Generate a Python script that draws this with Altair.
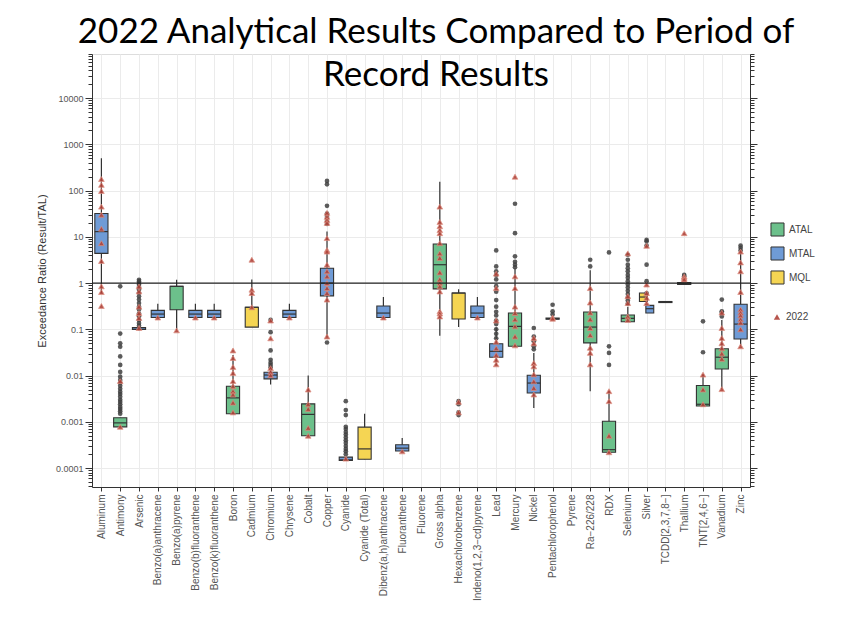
import altair as alt
import pandas as pd
import numpy as np

categories = ["Aluminum", "Antimony", "Arsenic", "Benzo(a)anthracene", "Benzo(a)pyrene",
              "Benzo(b)fluoranthene", "Benzo(k)fluoranthene", "Boron", "Cadmium", "Chromium",
              "Chrysene", "Cobalt", "Copper", "Cyanide", "Cyanide (Total)",
              "Dibenz(a,h)anthracene", "Fluoranthene", "Fluorene", "Gross alpha",
              "Hexachlorobenzene", "Indeno(1,2,3\u2212cd)pyrene", "Lead", "Mercury", "Nickel",
              "Pentachlorophenol", "Pyrene", "Ra\u2212226/228", "RDX", "Selenium", "Silver",
              "TCDD[2,3,7,8\u2212]", "Thallium", "TNT[2,4,6\u2212]", "Vanadium", "Zinc"]

# box statistics (period of record)
box_cat = ["Aluminum", "Antimony", "Arsenic", "Benzo(a)anthracene", "Benzo(a)pyrene",
           "Benzo(b)fluoranthene", "Benzo(k)fluoranthene", "Boron", "Cadmium", "Chromium",
           "Chrysene", "Cobalt", "Copper", "Cyanide", "Cyanide (Total)",
           "Dibenz(a,h)anthracene", "Fluoranthene", "Gross alpha", "Hexachlorobenzene",
           "Indeno(1,2,3\u2212cd)pyrene", "Lead", "Mercury", "Nickel", "Pentachlorophenol",
           "Ra\u2212226/228", "RDX", "Selenium", "Silver", "Silver", "TCDD[2,3,7,8\u2212]",
           "Thallium", "TNT[2,4,6\u2212]", "Vanadium", "Zinc"]
box_group = ["MTAL", "ATAL", "MTAL", "MTAL", "ATAL", "MTAL", "MTAL", "ATAL", "MQL", "MTAL",
             "MTAL", "ATAL", "MTAL", "MTAL", "MQL", "MTAL", "MTAL", "ATAL", "MQL", "MTAL",
             "MTAL", "ATAL", "MTAL", "MTAL", "ATAL", "ATAL", "ATAL", "MQL", "MTAL", "MTAL",
             "ATAL", "ATAL", "ATAL", "MTAL"]
box_low = [0.6, 0.00078, 0.095, 0.18, 0.098, 0.18, 0.18, 0.0015, 0.112, 0.0064,
           0.18, 0.0005, 0.07, 0.000147, 0.000155, 0.18, 0.000234, 0.073, 0.112, 0.18,
           0.017, 0.043, 0.002, 0.165, 0.0046, 0.00022, 0.146, 0.4, 0.225, 0.38,
           0.93, 0.0022, 0.0051, 0.045]
box_q1 = [4.4, 0.00078, 0.1, 0.18, 0.265, 0.18, 0.18, 0.0015, 0.112, 0.0085,
          0.18, 0.0005, 0.53, 0.000147, 0.000155, 0.18, 0.000234, 0.75, 0.167, 0.18,
          0.025, 0.043, 0.0042, 0.165, 0.051, 0.00022, 0.146, 0.4, 0.225, 0.38,
          0.93, 0.0022, 0.0139, 0.062]
box_median = [13, 0.00095, 0.1, 0.214, 0.85, 0.214, 0.214, 0.0033, 0.3, 0.0103,
              0.214, 0.00145, 1.0, 0.00015, 0.00026, 0.225, 0.00027, 2.5, 0.61, 0.225,
              0.0335, 0.116, 0.0069, 0.17, 0.112, 0.00025, 0.173, 0.5, 0.28, 0.39,
              0.97, 0.0024, 0.025, 0.13]
box_q3 = [32, 0.00123, 0.11, 0.257, 0.85, 0.257, 0.257, 0.0059, 0.3, 0.0118,
          0.257, 0.00245, 2.1, 0.000173, 0.00077, 0.32, 0.00032, 7.0, 0.61, 0.32,
          0.049, 0.225, 0.0102, 0.175, 0.237, 0.00103, 0.204, 0.61, 0.33, 0.4,
          1.03, 0.0061, 0.038, 0.35]
box_high = [500, 0.00123, 0.12, 0.36, 1.18, 0.36, 0.36, 0.028, 1.2, 0.016,
            0.36, 0.01, 13, 0.000173, 0.0015, 0.5, 0.00045, 156, 0.74, 0.5,
            0.11, 2.1, 0.031, 0.175, 1.9, 0.0046, 0.31, 0.61, 0.33, 0.4,
            1.03, 0.0105, 0.16, 4.4]

# period of record outliers
outliers = {
    "Antimony": [0.85, 0.081, 0.05, 0.042, 0.026, 0.017, 0.012, 0.0095, 0.008, 0.007, 0.006,
                 0.0052, 0.0045, 0.004, 0.0035, 0.003, 0.0027, 0.0024, 0.0021, 0.0019,
                 0.0017, 0.0015],
    "Arsenic": [1.18, 1.09, 1.0, 0.92, 0.82, 0.72, 0.62, 0.52, 0.44, 0.37, 0.31, 0.27, 0.22,
                0.19, 0.16, 0.137, 0.12],
    "Chromium": [0.16, 0.087, 0.035, 0.022, 0.019, 0.017, 0.015],
    "Copper": [162, 137, 47, 32, 27, 22, 19, 0.052],
    "Cyanide": [0.0028, 0.0018, 0.0014, 0.00078, 0.0007, 0.0006, 0.00053, 0.00046, 0.0004,
                0.00035, 0.0003, 0.00026, 0.00023, 0.0002],
    "Hexachlorobenzene": [0.0028, 0.0024, 0.0016, 0.0014],
    "Lead": [5.1, 2.3, 1.8, 1.5, 1.2, 0.86, 0.65, 0.43, 0.31, 0.24, 0.2, 0.155, 0.13, 0.1,
             0.08, 0.064],
    "Mercury": [52, 12, 3.8, 2.9, 2.5, 2.2],
    "Nickel": [0.107, 0.07, 0.055, 0.043, 0.037],
    "Pentachlorophenol": [0.34, 0.245, 0.21],
    "Ra\u2212226/228": [3.2, 2.3],
    "RDX": [4.6, 0.043, 0.031, 0.017],
    "Selenium": [4.1, 3.2, 2.5, 2.1, 1.8, 1.5, 1.3, 1.1, 0.93, 0.8, 0.68, 0.58, 0.49, 0.42,
                 0.36],
    "Silver": [8.6, 8.0, 6.5, 2.5, 1.1, 0.6],
    "Thallium": [1.5, 1.4],
    "TNT[2,4,6\u2212]": [0.149, 0.032],
    "Vanadium": [0.44, 0.245, 0.23, 0.19],
    "Zinc": [6.5, 5.8, 5.1],
}

# 2022 results
results_2022 = {
    "Aluminum": [178, 133, 98, 45, 30, 15, 7.3, 3.0, 0.85, 0.64, 0.32],
    "Antimony": [0.0076, 0.00078],
    "Arsenic": [0.85, 0.66, 0.31, 0.225, 0.176, 0.107],
    "Benzo(a)anthracene": [0.18],
    "Benzo(a)pyrene": [0.095],
    "Benzo(b)fluoranthene": [0.18],
    "Benzo(k)fluoranthene": [0.18],
    "Boron": [0.035, 0.024, 0.0154, 0.0114, 0.0076, 0.0059, 0.0046, 0.0039, 0.0026, 0.0016],
    "Cadmium": [3.2, 0.72, 0.61, 0.3],
    "Chromium": [0.155, 0.064, 0.0145, 0.012, 0.0102],
    "Chrysene": [0.18],
    "Cobalt": [0.005, 0.0024, 0.0019, 0.00074, 0.0005],
    "Copper": [33, 27, 23, 20, 9.4, 5.2, 4.8, 2.5, 1.8, 1.4, 1.0, 0.78, 0.61, 0.44, 0.07],
    "Cyanide": [0.00016],
    "Dibenz(a,h)anthracene": [0.18],
    "Fluoranthene": [0.00023],
    "Gross alpha": [45, 21, 17, 14, 12, 7.3, 4.4, 3.5, 1.7, 1.2, 1.0, 0.85, 0.66, 0.245,
                    0.22, 0.19],
    "Hexachlorobenzene": [0.0027, 0.0016],
    "Indeno(1,2,3\u2212cd)pyrene": [0.18],
    "Lead": [1.6, 0.78, 0.155, 0.054, 0.039, 0.028, 0.022, 0.0175],
    "Mercury": [200, 1.4, 0.78, 0.31, 0.225, 0.165, 0.116, 0.07, 0.045],
    "Nickel": [0.065, 0.05, 0.0187, 0.0158, 0.0106, 0.0075, 0.0054, 0.0039],
    "Pentachlorophenol": [0.18, 0.17],
    "Ra\u2212226/228": [0.78, 0.38, 0.23, 0.165, 0.107, 0.075, 0.04, 0.031, 0.0175],
    "RDX": [0.0046, 0.0028, 0.0005, 0.00022],
    "Selenium": [4.4, 0.52, 0.37, 0.19, 0.16],
    "Silver": [6.4, 0.93, 0.61, 0.48, 0.37],
    "Thallium": [12, 1.4, 1.3, 1.2],
    "TNT[2,4,6\u2212]": [0.0105, 0.005, 0.0024],
    "Vanadium": [0.23, 0.107, 0.065, 0.05, 0.039, 0.03, 0.023, 0.0051],
    "Zinc": [4.8, 2.8, 1.8, 0.64, 0.27, 0.23, 0.2, 0.165, 0.14, 0.1, 0.043],
}

groups = ["ATAL", "MTAL", "MQL"]
group_colors = ["#6cc08b", "#6f9bd6", "#f5d553"]
reference_level = [1]

# ---- build tables ----
pos = {c: i for i, c in enumerate(categories)}
box = pd.DataFrame({"cat": box_cat, "group": box_group, "lo": box_low, "q1": box_q1,
                    "med": box_median, "q3": box_q3, "hi": box_high})
box["k"] = box.groupby("cat").cumcount()
box["n"] = box.groupby("cat")["cat"].transform("count")
box["xc"] = [pos[c] + (0 if n == 1 else (k - (n - 1) / 2) * 0.34)
             for c, k, n in zip(box["cat"], box["k"], box["n"])]
box["hw"] = np.where(box["n"] == 1, 0.35, 0.21)
box["x0"] = box["xc"] - box["hw"]
box["x1"] = box["xc"] + box["hw"]

out_df = pd.DataFrame([(pos[c], v) for c, vs in outliers.items() for v in vs],
                      columns=["xc", "v"])
res_df = pd.DataFrame([(pos[c], v, "2022") for c, vs in results_2022.items() for v in vs],
                      columns=["xc", "v", "series"])
ref_df = pd.DataFrame({"v": reference_level})

minor = sorted({round(m * 10.0 ** e, 12) for e in range(-5, 5) for m in range(1, 10)
                if 3.9e-5 <= m * 10.0 ** e <= 9e4})
is_major = "abs(log(datum.value)/LN10 - round(log(datum.value)/LN10)) < 0.000001"

yscale = alt.Scale(type="log", domain=[3.9e-5, 9e4], nice=False)
xscale = alt.Scale(domain=[-0.5, len(categories) - 0.5], nice=False, zero=False)

label_array = "[" + ",".join("'" + c + "'" for c in categories) + "]"
xaxis = alt.Axis(values=list(range(len(categories))), labelExpr=label_array + "[datum.value]",
                 labelAngle=-90, labelAlign="right", labelBaseline="middle",
                 labelFont="Liberation Sans", labelFontSize=10, labelColor="#555555",
                 labelPadding=3, tickSize=4, tickColor="#333333", domainColor="#333333",
                 grid=True, gridColor="#ebebeb", gridWidth=1, title=None)
yaxis = alt.Axis(values=minor, labelExpr="(" + is_major + ") ? format(datum.value, '~g') : ''",
                 tickSize={"condition": {"test": is_major, "value": 7}, "value": 4},
                 gridOpacity={"condition": {"test": is_major, "value": 1}, "value": 0},
                 gridColor="#ebebeb", grid=True, tickColor="#333333", domainColor="#333333",
                 labelFont="Liberation Sans", labelFontSize=9, labelColor="#555555",
                 labelPadding=2, title="Exceedance Ratio (Result/TAL)",
                 titleFont="Liberation Sans", titleFontSize=11, titleFontWeight="normal",
                 titleColor="#333333", titlePadding=8, labelOverlap=False)
yaxis_r = alt.Axis(values=minor, labels=False, orient="right",
                   tickSize={"condition": {"test": is_major, "value": 7}, "value": 4},
                   grid=False, tickColor="#333333", domainColor="#333333", title=None)

X = lambda f: alt.X(f, type="quantitative", scale=xscale, axis=xaxis)
Y = lambda f: alt.Y(f, type="quantitative", scale=yscale, axis=yaxis)

base_box = alt.Chart(box)
whisk = base_box.mark_rule(color="#333333", strokeWidth=1.2).encode(
    x=X("xc"), y=Y("lo"), y2="hi")
bars = base_box.mark_bar(stroke="#333333", strokeWidth=1.1).encode(
    x=X("x0"), x2="x1", y=Y("q1"), y2="q3",
    fill=alt.Fill("group:N", scale=alt.Scale(domain=groups, range=group_colors),
                  legend=alt.Legend(title=None, orient="none", legendX=678, legendY=168,
                                    symbolType="square", symbolSize=170,
                                    symbolStrokeColor="#333333", symbolStrokeWidth=1,
                                    labelFont="Liberation Sans", labelFontSize=10,
                                    labelColor="#444444", rowPadding=5)))
meds = base_box.mark_rule(color="#333333", strokeWidth=1.2).encode(
    x=X("x0"), x2="x1", y=Y("med"))
dots = alt.Chart(out_df).mark_circle(color="#404040", size=22, opacity=0.85).encode(
    x=X("xc"), y=Y("v"))
tris = alt.Chart(res_df).mark_point(shape="triangle-up", filled=True, fill="#b0433a",
                                    stroke="#dc8c7e", strokeWidth=0.8, size=32,
                                    opacity=0.9).encode(
    x=X("xc"), y=Y("v"),
    shape=alt.Shape("series:N", scale=alt.Scale(domain=["2022"], range=["triangle-up"]),
                    legend=alt.Legend(title=None, orient="none", legendX=680, legendY=258,
                                      symbolFillColor="#b0433a", symbolStrokeColor="#dc8c7e",
                                      symbolSize=40, labelFont="Liberation Sans",
                                      labelFontSize=10, labelColor="#444444")))
hline = alt.Chart(ref_df).mark_rule(color="#222222", strokeWidth=1.3).encode(
    y=alt.Y("v:Q", scale=yscale, axis=yaxis_r))

inner = alt.layer(whisk, bars, meds, dots, tris)
chart = alt.layer(inner, hline).resolve_axis(y="independent").properties(
    width=658, height=433,
    autosize=alt.AutoSizeParams(type="none"),
    padding={"left": 84, "top": 46, "right": 90, "bottom": 120},
    title=alt.TitleParams(text=["2022 Analytical Results Compared to Period of",
                                "Record Results"],
                          font="Lato", fontSize=35,
                          fontWeight="normal", color="black", anchor="middle",
                          frame="group", dx=15, offset=-43, lineHeight=43)
).configure_view(stroke="#444444", strokeWidth=1).configure(background="white")

chart.save("out.html", embed_options={"renderer": "svg", "actions": False})
